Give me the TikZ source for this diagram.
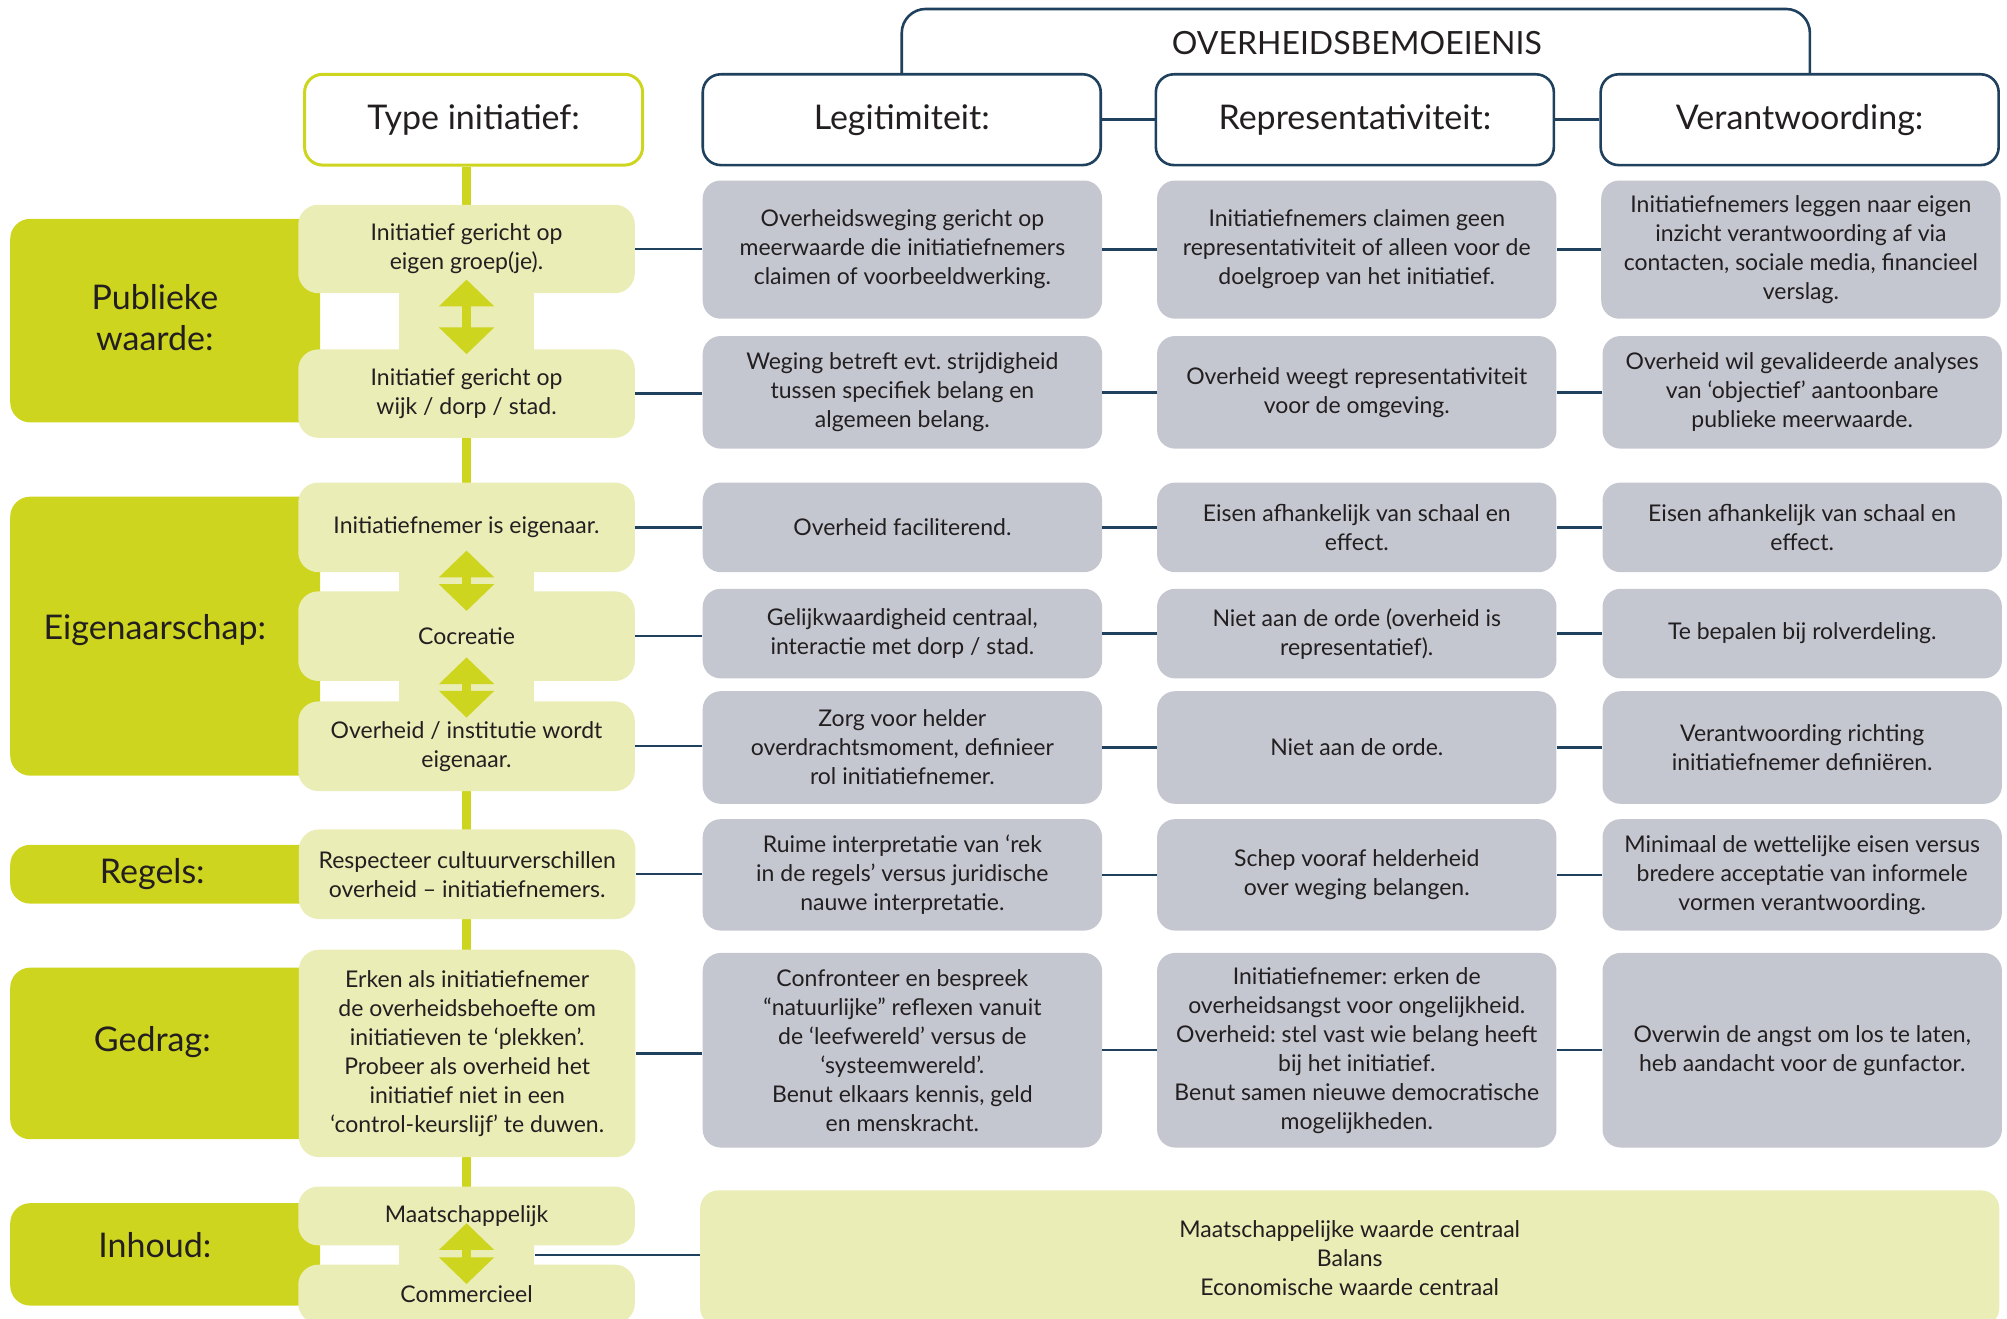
\documentclass[tikz,border=0pt]{standalone}
\usepackage{fontspec}
\setmainfont{Lato}
\usetikzlibrary{arrows.meta}
\frenchspacing

\definecolor{catgreen}{RGB}{205,213,30}
\definecolor{lightgreen}{RGB}{234,237,182}
\definecolor{boxgray}{RGB}{196,198,208}
\definecolor{navy}{RGB}{31,65,93}
\definecolor{ink}{RGB}{35,31,32}

\newcommand{\bodyfont}{\fontsize{11.5}{14.5}\selectfont}
\newcommand{\bigfont}{\fontsize{17}{20.5}\selectfont}

\tikzset{
	catbox/.style={fill=catgreen, rounded corners=10pt, minimum width=154.9pt, inner sep=0pt},
	cattext/.style={font=\bigfont, text=ink, align=center},
	hdrbox/.style={draw=navy, line width=1.3pt, fill=white, rounded corners=9pt, minimum width=199pt, minimum height=45.4pt, font=\bigfont, text=ink},
	typehdr/.style={hdrbox, draw=catgreen, line width=1.5pt, minimum width=169pt},
	typebox/.style={fill=lightgreen, rounded corners=10pt, minimum width=168.3pt, align=center, font=\bodyfont, text=ink},
	neck/.style={fill=lightgreen, minimum width=67.8pt, inner sep=0pt},
	graybox/.style={fill=boxgray, rounded corners=9pt, minimum width=199.7pt, align=center, font=\bodyfont, text=ink},
	link/.style={draw=navy, line width=1.2pt},
	spine/.style={draw=catgreen, line width=4.5pt},
	dblarrow/.style={draw=catgreen, line width=4.5pt, {Triangle[length=13.4pt,width=26.9pt]}-{Triangle[length=13.4pt,width=26.9pt]}}
}

\begin{document}
\begin{tikzpicture}[x=0.64pt, y=-0.64pt]
	\useasboundingbox (0,0) rectangle (1568,1030);
	\clip (0,0) rectangle (1568,1030);

	\node[catbox, minimum height=101.8pt] (pw) at (129,250.5) {};
	\node[catbox, minimum height=139.5pt] (eig) at (129,497) {};
	\node[catbox, minimum height=29.4pt] (reg) at (129,683) {};
	\node[catbox, minimum height=85.8pt] (ged) at (129,823) {};
	\node[catbox, minimum height=51.2pt] (inh) at (129,980) {};
	\node[cattext] (pwtext) at (121,248) {Publieke\\waarde:};
	\node[cattext] (eigtext) at (121,492) {Eigenaarschap:};
	\node[cattext] (regtext) at (119,683) {Regels:};
	\node[cattext] (gedtext) at (119,814) {Gedrag:};
	\node[cattext] (inhtext) at (121,973) {Inhoud:};

	\node[typehdr] (hdrT) at (370,93.5) {Type initiatief:};
	\node[hdrbox] (hdrL) at (704.5,93.5) {Legitimiteit:};
	\node[hdrbox] (hdrR) at (1058.5,93.5) {Representativiteit:};
	\node[hdrbox] (hdrV) at (1406,93.5) {Verantwoording:};
	\node[font=\fontsize{16}{19}\selectfont, text=ink] (title) at (1060,34) {OVERHEIDSBEMOEIENIS};
	\coordinate (top) at (1414,7);
	\draw[link, line width=1.3pt, rounded corners=12pt] (hdrL.north) |- (top) -- (top |- hdrV.north);
	\draw[link, line width=1.3pt] (hdrL) -- (hdrR);
	\draw[link, line width=1.3pt] (hdrR) -- (hdrV);

	\node[neck, minimum height=33.3pt] (nA) at (364.5,251) {};
	\node[neck, minimum height=16pt] (nB) at (364.5,454.5) {};
	\node[neck, minimum height=16pt] (nC) at (364.5,540) {};
	\node[neck, minimum height=16pt] (nD) at (364.5,980.5) {};
	\draw[spine] (nA |- hdrT.south) -- (nD.north);

	\node[typebox, minimum height=44.2pt] (t1) at (364.5,194.5) {Initiatief gericht op\\eigen groep(je).};
	\node[typebox, minimum height=44.2pt] (t2) at (364.5,307.5) {Initiatief gericht op\\wijk / dorp / stad.};
	\node[typebox, minimum height=44.8pt] (t3) at (364.5,412) {Initiatiefnemer is eigenaar.};
	\node[typebox, minimum height=44.8pt] (t4) at (364.5,497) {Cocreatie};
	\node[typebox, minimum height=44.8pt] (t5) at (364.5,583) {Overheid / institutie wordt\\eigenaar.};
	\node[typebox, minimum height=44.8pt] (t6) at (365,683) {Respecteer cultuurverschillen\\overheid – initiatiefnemers.};
	\node[typebox, minimum height=103.7pt] (t7) at (365,823) {Erken als initiatiefnemer\\de overheidsbehoefte om\\initiatieven te ‘plekken’.\\Probeer als overheid het\\initiatief niet in een\\‘control-keurslijf’ te duwen.};
	\node[typebox, minimum height=29.4pt] (t8) at (364.5,950) {Maatschappelijk};
	\node[typebox, minimum height=29.4pt] (t9) at (364.5,1011) {Commercieel};

	\draw[dblarrow] ([yshift=7pt]t1.south) -- ([yshift=-2.6pt]t2.north);
	\draw[dblarrow] ([yshift=11pt]t3.south) -- ([yshift=-10pt]t4.north);
	\draw[dblarrow] ([yshift=12pt]t4.south) -- ([yshift=-8.3pt]t5.north);
	\draw[dblarrow] ([yshift=11.3pt]t8.south) -- ([yshift=-9.9pt]t9.north);

	\node[graybox, minimum height=69.1pt] (l1) at (705,195) {Overheidsweging gericht op\\meerwaarde die initiatiefnemers\\claimen of voorbeeldwerking.};
	\node[graybox, minimum height=69.1pt] (r1) at (1060,195) {Initiatiefnemers claimen geen\\representativiteit of alleen voor de\\doelgroep van het initiatief.};
	\node[graybox, minimum height=69.1pt] (v1) at (1407,195) {Initiatiefnemers leggen naar eigen\\inzicht verantwoording af via\\contacten, sociale media, financieel\\verslag.};

	\node[graybox, minimum height=56.3pt] (l2) at (705,306.5) {Weging betreft evt. strijdigheid\\tussen specifiek belang en\\algemeen belang.};
	\node[graybox, minimum height=56.3pt] (r2) at (1060,306.5) {Overheid weegt representativiteit\\voor de omgeving.};
	\node[graybox, minimum height=56.3pt] (v2) at (1408,306.5) {Overheid wil gevalideerde analyses\\van ‘objectief’ aantoonbare\\publieke meerwaarde.};

	\node[graybox, minimum height=44.8pt] (l3) at (705,412) {Overheid faciliterend.};
	\node[graybox, minimum height=44.8pt] (r3) at (1060,412) {Eisen afhankelijk van schaal en\\effect.};
	\node[graybox, minimum height=44.8pt] (v3) at (1408,412) {Eisen afhankelijk van schaal en\\effect.};

	\node[graybox, minimum height=44.8pt] (l4) at (705,495) {Gelijkwaardigheid centraal,\\interactie met dorp / stad.};
	\node[graybox, minimum height=44.8pt] (r4) at (1060,495) {Niet aan de orde (overheid is\\representatief).};
	\node[graybox, minimum height=44.8pt] (v4) at (1408,495) {Te bepalen bij rolverdeling.};

	\node[graybox, minimum height=56.3pt] (l5) at (705,584) {Zorg voor helder\\overdrachtsmoment, definieer\\rol initiatiefnemer.};
	\node[graybox, minimum height=56.3pt] (r5) at (1060,584) {Niet aan de orde.};
	\node[graybox, minimum height=56.3pt] (v5) at (1408,584) {Verantwoording richting\\initiatiefnemer definiëren.};

	\node[graybox, minimum height=55.7pt] (l6) at (705,683.5) {Ruime interpretatie van ‘rek\\in de regels’ versus juridische\\nauwe interpretatie.};
	\node[graybox, minimum height=55.7pt] (r6) at (1060,683.5) {Schep vooraf helderheid\\over weging belangen.};
	\node[graybox, minimum height=55.7pt] (v6) at (1408,683.5) {Minimaal de wettelijke eisen versus\\bredere acceptatie van informele\\vormen verantwoording.};

	\node[graybox, minimum height=97.3pt] (l7) at (705,820.5) {Confronteer en bespreek\\“natuurlijke” reflexen vanuit\\de ‘leefwereld’ versus de\\‘systeemwereld’.\\Benut elkaars kennis, geld\\en menskracht.};
	\node[graybox, minimum height=97.3pt] (r7) at (1060,820.5) {Initiatiefnemer: erken de\\overheidsangst voor ongelijkheid.\\Overheid: stel vast wie belang heeft\\bij het initiatief.\\Benut samen nieuwe democratische\\mogelijkheden.};
	\node[graybox, minimum height=97.3pt] (v7) at (1408,820.5) {Overwin de angst om los te laten,\\heb aandacht voor de gunfactor.};

	\node[graybox, fill=lightgreen, minimum width=649.6pt, minimum height=67.8pt] (big) at (1054.5,983) {Maatschappelijke waarde centraal\\Balans\\Economische waarde centraal};

	\foreach \r in {1,...,7} {
		\draw[link] (t\r.east) -- (t\r.east -| l\r.west);
		\draw[link] (l\r) -- (r\r);
		\draw[link] (r\r) -- (v\r);
	}
	\draw[link] (nD.east) -- (nD.east -| big.west);
\end{tikzpicture}
\end{document}
